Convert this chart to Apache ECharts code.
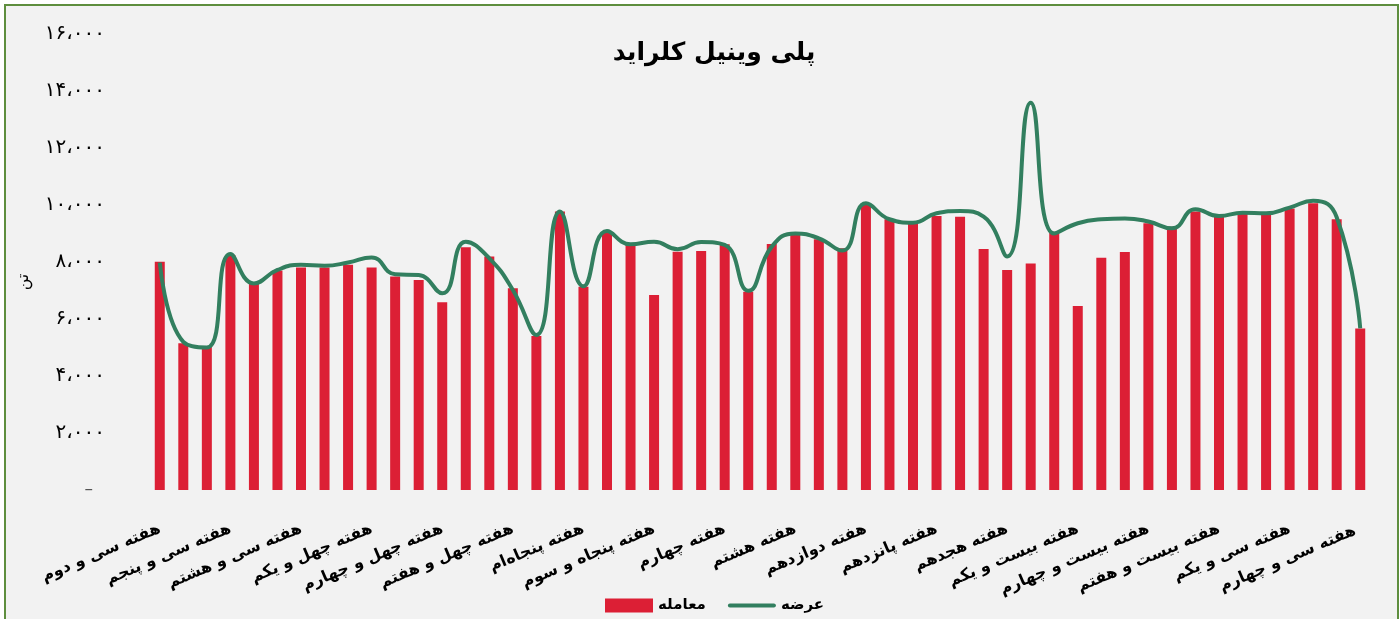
<!DOCTYPE html>
<html>
<head>
<meta charset="utf-8">
<script src="https://cdn.jsdelivr.net/npm/echarts@6/dist/echarts.min.js"></script>
<style>
  html, body { margin: 0; padding: 0; background: #ffffff; }
  #frame { position: absolute; left: 4px; top: 4px; width: 1391px; height: 620px; border: 2px solid #5e8e3e; background: #f2f2f2; }
  #chart { position: absolute; left: 0; top: 0; width: 1399px; height: 619px; }
</style>
</head>
<body>
<div id="frame"></div>
<div id="chart"></div>
<script>
// هفته ها
var weeks = [
    'هفته سی و دوم', 'هفته سی و سوم', 'هفته سی و چهارم', 'هفته سی و پنجم', 'هفته سی و ششم', 'هفته سی و هفتم',
    'هفته سی و هشتم', 'هفته سی و نهم', 'هفته چهلم', 'هفته چهل و یکم', 'هفته چهل و دوم', 'هفته چهل و سوم',
    'هفته چهل و چهارم', 'هفته چهل و پنجم', 'هفته چهل و ششم', 'هفته چهل و هفتم', 'هفته چهل و هشتم', 'هفته چهل و نهم',
    'هفته پنجاه‌ام', 'هفته پنجاه و یکم', 'هفته پنجاه و دوم', 'هفته پنجاه و سوم', 'هفته دوم', 'هفته سوم',
    'هفته چهارم', 'هفته ششم', 'هفته هفتم', 'هفته هشتم', 'هفته دهم', 'هفته یازدهم',
    'هفته دوازدهم', 'هفته سیزدهم', 'هفته چهاردهم', 'هفته پانزدهم', 'هفته شانزدهم', 'هفته هفدهم',
    'هفته هجدهم', 'هفته نوزدهم', 'هفته بیستم', 'هفته بیست و یکم', 'هفته بیست و دوم', 'هفته بیست و سوم',
    'هفته بیست و چهارم', 'هفته بیست و پنجم', 'هفته بیست و ششم', 'هفته بیست و هفتم', 'هفته بیست و نهم', 'هفته سی‌ام',
    'هفته سی و یکم', 'هفته سی و دوم ', 'هفته سی و سوم ', 'هفته سی و چهارم '
];
// معامله (تن)
var trades = [
    8010, 5150, 5030, 8250, 7230, 7700, 7810, 7810, 7900, 7810, 7490, 7370,
    6590, 8520, 8190, 7080, 5400, 9770, 7130, 9030, 8600, 6840, 8360, 8390,
    8620, 6960, 8630, 8950, 8800, 8480, 10060, 9500, 9360, 9610, 9590, 8460,
    7720, 7950, 9060, 6460, 8150, 8350, 9360, 9240, 9770, 9650, 9710, 9710,
    9880, 10060, 9500, 5670
];
// عرضه (تن)
var supply = [
    7980, 5200, 5000, 8280, 7250, 7720, 7900, 7870, 7980, 8160, 7570, 7540,
    6900, 8710, 8130, 7020, 5440, 9770, 7150, 9090, 8620, 8710, 8450, 8700,
    8600, 6990, 8540, 9000, 8830, 8400, 10060, 9500, 9380, 9710, 9790, 9590,
    8190, 13590, 9000, 9360, 9500, 9530, 9420, 9180, 9850, 9610, 9730, 9710,
    9910, 10150, 9570, 5670
];

var faDigits = ['۰', '۱', '۲', '۳', '۴', '۵', '۶', '۷', '۸', '۹'];
function toFa(v) {
    var s = String(v).replace(/\B(?=(\d{3})+(?!\d))/g, '،');
    return s.replace(/\d/g, function(d) { return faDigits[+d]; });
}

var font = 'DejaVu Sans';
var myChart = echarts.init(document.getElementById('chart'));
var option = {
    backgroundColor: 'transparent',
    title: {
        text: 'پلی وینیل کلراید',
        left: 709,
        textAlign: 'center',
        top: 36,
        textStyle: { fontFamily: font, fontSize: 25, fontWeight: 'bold', color: '#000' }
    },
    legend: {
        top: 593,
        left: 600,
        itemWidth: 48,
        itemHeight: 14,
        itemGap: 22,
        data: [
            { name: 'معامله', icon: 'rect' },
            // خط سبز با ضخامت ۴ پیکسل
            { name: 'عرضه', icon: 'path://M0,0M2,5H46A2,2 0 0 1 46,9H2A2,2 0 0 1 2,5ZM48,14' }
        ],
        textStyle: { fontFamily: font, fontSize: 15, fontWeight: 'bold', color: '#000' }
    },
    grid: { left: 148, right: 27, top: 34, bottom: 129 },
    xAxis: {
        type: 'category',
        data: weeks,
        axisLine: { show: false },
        axisTick: { show: false },
        axisLabel: {
            interval: 2,
            rotate: 23,
            margin: 38,
            fontFamily: font,
            fontSize: 16,
            fontWeight: 'bold',
            color: '#000'
        }
    },
    yAxis: {
        type: 'value',
        min: 0,
        max: 16000,
        interval: 2000,
        name: 'تن',
        nameLocation: 'middle',
        nameGap: 116,
        nameRotate: 90,
        nameTextStyle: { fontFamily: font, fontSize: 16, color: '#000', padding: [0, 0, 0, -40] },
        splitLine: { show: false },
        axisLine: { show: false },
        axisTick: { show: false },
        axisLabel: {
            margin: 43,
            fontFamily: font,
            fontSize: 20,
            color: '#000',
            formatter: function(v) {
                return v === 0 ? '{z|–}' : toFa(v);
            },
            rich: { z: { fontFamily: font, fontSize: 17, color: '#555', padding: [0, 12, 0, 0] } }
        }
    },
    series: [{
        name: 'معامله',
        type: 'bar',
        barWidth: 10,
        itemStyle: { color: '#dc1f35' },
        data: trades
    }, {
        name: 'عرضه',
        type: 'line',
        smooth: 0.5,
        symbol: 'none',
        lineStyle: { color: '#327f5f', width: 4 },
        itemStyle: { color: '#327f5f' },
        data: supply
    }]
};
myChart.setOption(option);
</script>
</body>
</html>
